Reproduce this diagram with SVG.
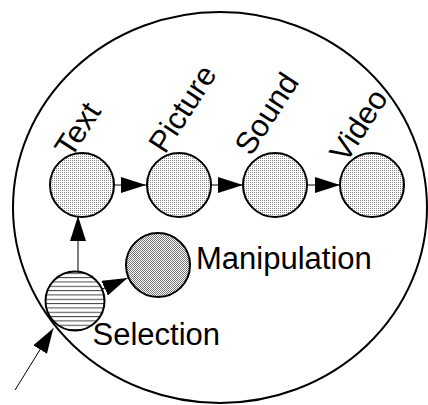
<svg xmlns="http://www.w3.org/2000/svg" width="428" height="405" viewBox="0 0 428 405">
  <style>
    .node { stroke: #000; stroke-width: 2; }
    .media { fill: url(#dots); }
    .lbl { font-family: "Liberation Sans", Arial, sans-serif; font-size: 31px; fill: #000; }
    .conn { stroke: #000; stroke-width: 1; fill: none; marker-end: url(#arrow); }
  </style>
  <defs>
    <pattern id="dots" width="2" height="2" patternUnits="userSpaceOnUse">
      <rect width="2" height="2" fill="#fff"/>
      <rect width="1" height="1" fill="#888"/>
    </pattern>
    <pattern id="check" width="2" height="2" patternUnits="userSpaceOnUse">
      <rect width="2" height="2" fill="#fff"/>
      <rect width="1" height="1" fill="#777"/>
      <rect x="1" y="1" width="1" height="1" fill="#777"/>
    </pattern>
    <pattern id="hlines" width="6" height="4.33" patternUnits="userSpaceOnUse">
      <rect width="6" height="4.33" fill="#fff"/>
      <line x1="0" y1="0.5" x2="6" y2="0.5" stroke="#444" stroke-width="1"/>
    </pattern>
    <marker id="arrow" markerUnits="userSpaceOnUse" markerWidth="25" markerHeight="16" refX="25" refY="8" orient="auto">
      <path d="M0,0 L25,8 L0,16 z" fill="#000"/>
    </marker>
  </defs>

  <g id="boundary">
    <ellipse cx="220" cy="207.5" rx="207" ry="195.5" fill="none" stroke="#000" stroke-width="2"/>
  </g>

  <g id="connectors">
    <line class="conn" x1="114" y1="185" x2="146" y2="185"/>
    <line class="conn" x1="211" y1="185" x2="243" y2="185"/>
    <line class="conn" x1="307" y1="185" x2="340" y2="185"/>
    <line class="conn" x1="78" y1="272" x2="78" y2="216"/>
    <line class="conn" x1="101.5" y1="289.5" x2="127.5" y2="278"/>
    <line class="conn" x1="15" y1="390" x2="53.3" y2="328.3" stroke-width="2"/>
  </g>

  <g id="node-text">
    <circle class="node media" cx="82" cy="185" r="32"/>
    <text class="lbl" transform="translate(71,159) rotate(-57)">Text</text>
  </g>
  <g id="node-picture">
    <circle class="node media" cx="179" cy="185" r="32"/>
    <text class="lbl" transform="translate(165,155) rotate(-57)">Picture</text>
  </g>
  <g id="node-sound">
    <circle class="node media" cx="275" cy="185" r="32"/>
    <text class="lbl" transform="translate(251,157) rotate(-57)">Sound</text>
  </g>
  <g id="node-video">
    <circle class="node media" cx="372" cy="185" r="32"/>
    <text class="lbl" transform="translate(346,164) rotate(-57)">Video</text>
  </g>
  <g id="node-manipulation">
    <circle class="node" cx="158" cy="265" r="32" fill="url(#check)"/>
    <text class="lbl" x="196" y="269">Manipulation</text>
  </g>
  <g id="node-selection">
    <circle class="node" cx="75" cy="301" r="29.5" fill="url(#hlines)"/>
    <text class="lbl" x="92.5" y="345">Selection</text>
  </g>
</svg>
